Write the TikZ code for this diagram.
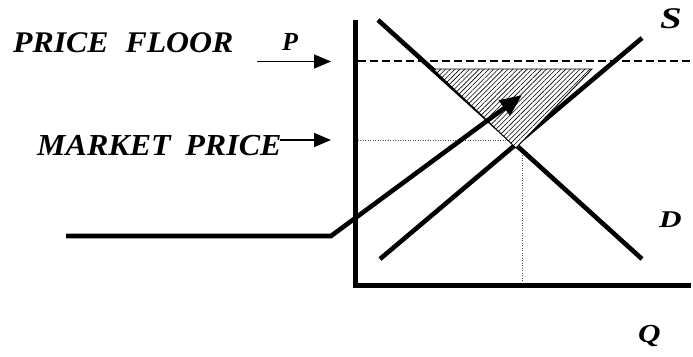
\documentclass[tikz,border=0pt]{standalone}
\usepackage{fontspec}
\setmainfont{Liberation Serif}
\usetikzlibrary{arrows.meta,patterns.meta}
\begin{document}
\begin{tikzpicture}[x=1pt,y=-1pt,
  curve/.style={line width=4.6pt},
  axisline/.style={line width=5pt,line join=miter},
  lab/.style={anchor=base west,inner sep=0pt,font=\bfseries\itshape},
  pointer/.style={line width=1.4pt,-{Triangle[length=17pt,width=14pt]}},
  guide/.style={line width=1pt,dash pattern=on 1pt off 1.5pt,black!70},
]
\useasboundingbox (0,0) rectangle (693,356);
% axes
\coordinate (ytop) at (355,20);
\coordinate (orig) at (355,285);
\coordinate (xend) at (691,285);
\draw[axisline] (ytop) -- (orig) -- (xend);
% price floor dashed line
\coordinate (pf1) at (357.5,61);
\coordinate (pf2) at (693,61);
\draw[line width=1.3pt,dash pattern=on 8pt off 4pt] (pf1) -- (pf2);
% equilibrium guides
\coordinate (eqy) at (357.5,140);
\coordinate (eqx1) at (512,140);
\coordinate (eqq1) at (522,150);
\coordinate (eqq2) at (522,282.5);
\draw[guide] (eqy) -- (eqx1);
\draw[guide] (eqq1) -- (eqq2);
% demand and supply
\coordinate (d1) at (378,20);
\coordinate (d2) at (642,259);
\coordinate (s1) at (380,259);
\coordinate (s2) at (642,38);
\draw[curve] (d1) -- (d2);
\draw[curve] (s1) -- (s2);
% surplus triangle
\coordinate (t1) at (433,69);
\coordinate (t2) at (592,69);
\coordinate (t3) at (516,148);
\fill[white] (t1) -- (t2) -- (t3) -- cycle;
\draw[line width=0.9pt,pattern={Lines[angle=45,distance=3.4pt,line width=0.6pt]}] (t1) -- (t2) -- (t3) -- cycle;
% big arrow
\coordinate (a1) at (66,236);
\coordinate (a2) at (331,236);
\coordinate (a3) at (522,95);
\draw[curve,line join=miter,-{Triangle[length=22pt,width=18pt]}] (a1) -- (a2) -- (a3);
% labels
\node[lab,font=\bfseries\itshape\fontsize{30}{30}\selectfont] (pf) at (13,52) {\scalebox{1.06}[1]{PRICE\hspace{16pt}FLOOR}};
\node[lab,font=\bfseries\itshape\fontsize{26}{26}\selectfont] (p) at (282,50) {P};
\node[lab,font=\bfseries\itshape\fontsize{30.5}{30}\selectfont] (mp) at (37,155) {\scalebox{1.05}[1]{MARKET\hspace{14pt}PRICE}};
\node[lab,font=\bfseries\itshape\fontsize{30}{30}\selectfont] (s) at (660,28) {\scalebox{1.3}[1]{S}};
\node[lab,font=\bfseries\itshape\fontsize{24}{24}\selectfont] (d) at (659,227) {\scalebox{1.3}[1]{D}};
\node[lab,font=\bfseries\itshape\fontsize{26}{26}\selectfont] (q) at (638,342) {\scalebox{1.2}[1]{Q}};
% pointers
\coordinate (pa1) at (257,61.5);
\coordinate (pa2) at (331,61.5);
\coordinate (ma1) at (280,140);
\coordinate (ma2) at (331,140);
\draw[pointer] (pa1) -- (pa2);
\draw[pointer] (ma1) -- (ma2);
\end{tikzpicture}
\end{document}
